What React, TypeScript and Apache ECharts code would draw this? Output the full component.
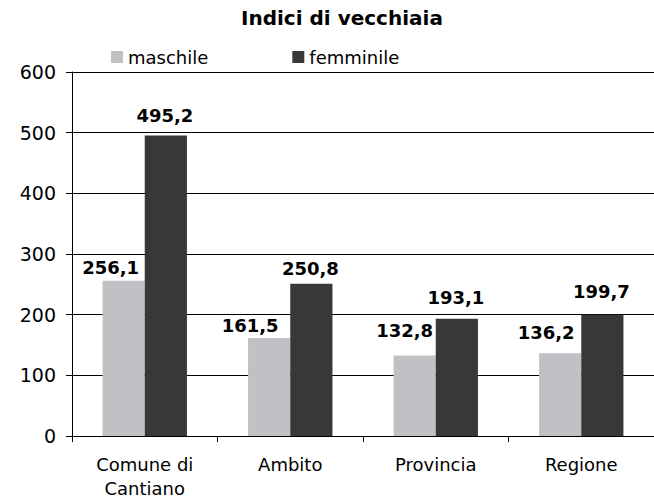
import React, { useEffect, useRef } from "react";
import * as echarts from "echarts";

const titleText = "Indici di vecchiaia";
const categories = ["Comune di\nCantiano", "Ambito", "Provincia", "Regione"];
const seriesNames = ["maschile", "femminile"];
const maschile = [256.1, 161.5, 132.8, 136.2];
const femminile = [495.2, 250.8, 193.1, 199.7];
const yTicks = [0, 100, 200, 300, 400, 500, 600];

// label nudges (dx, dy) for each bar's value label, as placed in the original
const maschileLabelOffsets = [[-13, 1], [-19, 1], [-10, -11], [-14, -7]];
const femminileLabelOffsets = [[-1, -6], [-1, -1], [-1, -7], [-1, -9]];

const fmt = (v: number) => v.toFixed(1).replace(".", ",");

export default function App() {
  const ref = useRef<HTMLDivElement>(null);
  useEffect(() => {
    if (!ref.current) return;
    const chart = echarts.init(ref.current, undefined, { renderer: "svg" });
    const font = "DejaVu Sans";
    const mkData = (vals: number[], offs: number[][]) =>
      vals.map((v, i) => ({
        value: v,
        label: { offset: offs[i] },
      }));
    const labelStyle = {
      show: true,
      position: "top",
      distance: 5,
      fontFamily: font,
      fontWeight: "bold",
      fontSize: 18,
      color: "#000",
      formatter: (p: any) => fmt(p.value),
    };
    chart.setOption({
      animation: false,
      backgroundColor: "#fff",
      title: {
        text: titleText,
        left: 236,
        top: 3,
        textStyle: { fontFamily: font, fontWeight: "bold", fontSize: 20, color: "#000" },
      },
      legend: {
        data: seriesNames,
        left: 106,
        top: 43,
        icon: "rect",
        itemWidth: 12,
        itemHeight: 12,
        itemGap: 84,
        textStyle: { fontFamily: font, fontSize: 18, color: "#000" },
      },
      grid: { left: 72, right: 0, top: 72, bottom: 67, containLabel: false },
      xAxis: {
        type: "category",
        data: categories,
        axisLine: { lineStyle: { color: "#000", width: 1 } },
        axisTick: { show: true, interval: 0, alignWithLabel: false, length: 6, lineStyle: { color: "#000" } },
        axisLabel: {
          interval: 0,
          margin: 16,
          fontFamily: font,
          fontSize: 18,
          lineHeight: 24,
          color: "#000",
        },
      },
      yAxis: {
        type: "value",
        min: yTicks[0],
        max: yTicks[yTicks.length - 1],
        interval: 100,
        axisLine: { show: true, lineStyle: { color: "#000", width: 1 } },
        axisTick: { show: true, length: 6, lineStyle: { color: "#000" } },
        splitLine: { show: true, lineStyle: { color: "#000", width: 1 } },
        axisLabel: { margin: 16, fontFamily: font, fontSize: 19, color: "#000" },
      },
      series: [
        {
          name: seriesNames[0],
          type: "bar",
          data: mkData(maschile, maschileLabelOffsets),
          barWidth: "29%",
          barGap: "0%",
          itemStyle: { color: "#c0c1c5" },
          label: labelStyle,
        },
        {
          name: seriesNames[1],
          type: "bar",
          data: mkData(femminile, femminileLabelOffsets),
          barWidth: "29%",
          barGap: "0%",
          itemStyle: { color: "#38383a" },
          label: labelStyle,
        },
      ],
    });
    return () => chart.dispose();
  }, []);
  return (
    <div
      ref={ref}
      style={{ position: "fixed", left: 0, top: 0, width: 654, height: 503, background: "#fff" }}
    />
  );
}
